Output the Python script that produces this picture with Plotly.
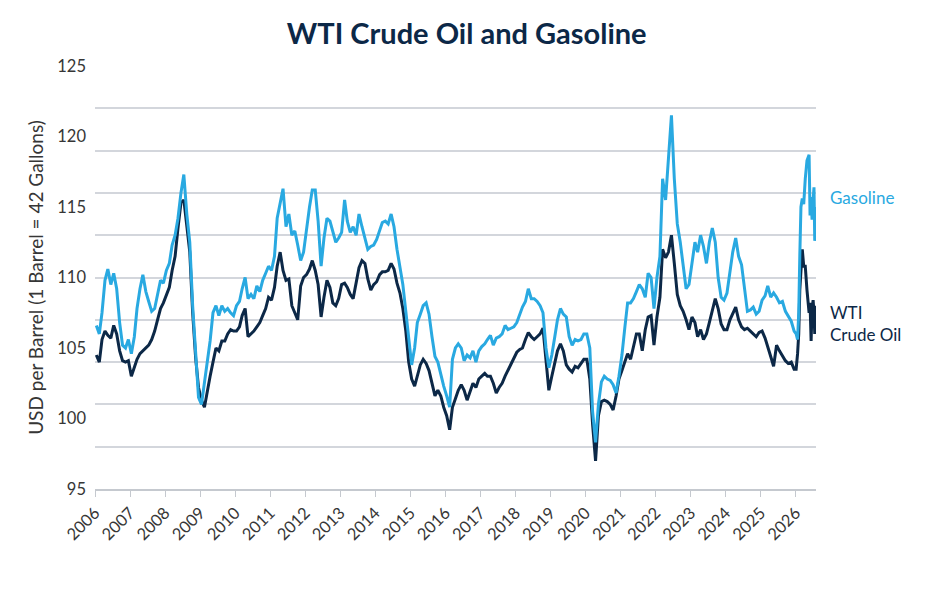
"""WTI crude oil vs gasoline (USD per barrel), 2006 - mid 2026.

Monthly readings, plus a finer set of points for 2026.

    python plot.py
"""
import pandas as pd
import plotly.graph_objects as go

GAS_COLOR = "#29a9e1"
WTI_COLOR = "#0c2847"
GRID = "#d3d6dc"
TEXT = "#363636"

# monthly values, Jan 2006 .. Dec 2025 (mid-month)
gasoline_monthly = [
    106.6, 106.0, 107.5, 109.8, 110.6, 109.5, 110.3, 109.2, 106.8, 105.2, 105.0, 105.6,  # 2006
    104.6, 105.8, 107.8, 109.2, 110.2, 109.0, 108.3, 107.6, 107.8, 108.8, 109.8, 109.6,  # 2007
    110.5, 111.0, 112.3, 113.0, 114.2, 116.0, 117.3, 114.5, 112.5, 108.0, 104.5, 101.5,  # 2008
    101.0, 102.5, 104.0, 105.5, 107.5, 108.0, 107.3, 108.0, 107.6, 107.8, 107.5, 107.3,  # 2009
    108.0, 108.3, 109.2, 110.0, 108.5, 108.8, 108.5, 109.4, 109.0, 109.8, 110.3, 110.8,  # 2010
    110.5, 111.5, 114.2, 115.3, 116.3, 113.6, 114.5, 113.0, 113.3, 112.3, 111.2, 111.8,  # 2011
    113.6, 115.0, 116.2, 116.2, 114.0, 110.8, 112.8, 114.2, 114.0, 113.2, 112.5, 112.8,  # 2012
    113.2, 115.5, 114.0, 113.2, 113.6, 113.0, 114.5, 113.6, 112.8, 112.0, 112.2, 112.3,  # 2013
    112.7, 113.3, 113.9, 114.0, 113.8, 114.5, 113.6, 112.0, 110.8, 109.5, 107.6, 105.8,  # 2014
    103.8, 105.0, 106.8, 107.4, 108.0, 108.2, 107.4, 105.8, 104.4, 104.0, 103.1, 102.3,  # 2015
    101.6, 100.8, 104.2, 105.0, 105.3, 105.0, 104.1, 104.5, 104.3, 104.8, 104.0, 104.8,  # 2016
    105.1, 105.3, 105.6, 105.9, 105.2, 105.7, 105.8, 106.0, 106.6, 106.3, 106.4, 106.5,  # 2017
    106.8, 107.4, 107.9, 108.3, 109.2, 108.5, 108.5, 108.3, 108.0, 107.5, 105.0, 103.6,  # 2018
    104.5, 105.8, 107.0, 107.8, 107.4, 107.2, 105.8, 105.2, 105.6, 105.5, 105.6, 106.0,  # 2019
    106.0, 105.0, 100.5, 98.3, 101.0, 102.6, 103.0, 102.8, 102.7, 102.4, 101.8, 103.0,   # 2020
    104.5, 106.5, 108.2, 108.2, 108.5, 109.0, 109.5, 109.2, 108.6, 110.3, 110.0, 107.8,  # 2021
    110.0, 111.5, 117.0, 115.5, 118.5, 121.5, 117.0, 113.8, 112.5, 111.0, 109.2, 109.5,  # 2022
    111.2, 112.5, 111.8, 113.0, 112.2, 111.0, 112.5, 113.5, 112.5, 110.0, 108.6, 108.4,  # 2023
    108.9, 110.6, 111.8, 112.8, 111.5, 110.9, 109.4, 107.6, 107.7, 107.9, 107.4, 107.6,  # 2024
    108.4, 108.7, 109.4, 108.6, 108.9, 108.6, 108.2, 108.3, 107.6, 107.3, 106.9, 106.2,  # 2025
]
wti_monthly = [
    104.5, 104.0, 105.6, 106.2, 105.9, 105.7, 106.6, 106.0, 104.8, 104.1, 104.0, 104.1,  # 2006
    103.0, 103.6, 104.2, 104.6, 104.8, 105.0, 105.2, 105.6, 106.2, 107.0, 107.8, 108.2,  # 2007
    108.7, 109.3, 110.5, 111.5, 113.5, 115.3, 115.5, 113.8, 111.8, 107.5, 104.3, 102.2,  # 2008
    101.3, 100.8, 102.0, 103.0, 104.0, 105.0, 104.8, 105.5, 105.5, 106.0, 106.3, 106.2,  # 2009
    106.2, 106.5, 107.3, 107.8, 105.8, 106.0, 106.2, 106.5, 106.8, 107.3, 107.8, 108.6,  # 2010
    108.4, 109.3, 110.8, 111.8, 110.5, 109.8, 109.9, 108.0, 107.5, 107.0, 109.4, 110.0,  # 2011
    110.2, 110.6, 111.2, 110.5, 109.5, 107.2, 108.6, 109.8, 109.3, 108.2, 108.0, 108.5,  # 2012
    109.5, 109.6, 109.3, 108.8, 108.5, 109.5, 110.7, 111.2, 111.0, 109.9, 109.1, 109.5,  # 2013
    109.7, 110.2, 110.4, 110.4, 110.5, 111.0, 110.6, 109.6, 108.9, 107.8, 106.2, 104.0,  # 2014
    102.8, 102.3, 103.0, 103.8, 104.2, 103.9, 103.4, 102.4, 101.6, 102.0, 101.6, 100.8,  # 2015
    100.2, 99.2, 100.8, 101.4, 102.0, 102.4, 102.0, 101.3, 102.0, 102.5, 102.2, 102.8,   # 2016
    103.0, 103.2, 103.0, 103.0, 102.5, 101.8, 102.2, 102.5, 103.0, 103.4, 103.9, 104.2,  # 2017
    104.7, 104.9, 105.0, 105.6, 106.1, 105.8, 105.6, 105.8, 106.0, 106.4, 104.0, 102.0,  # 2018
    103.0, 104.0, 104.8, 105.3, 104.8, 103.8, 103.5, 103.3, 103.7, 103.6, 103.9, 104.2,  # 2019
    104.2, 102.8, 99.6, 97.0, 100.2, 101.2, 101.3, 101.2, 101.0, 100.6, 101.6, 102.8,    # 2020
    103.4, 104.1, 104.6, 104.2, 105.0, 106.0, 106.0, 104.8, 106.3, 107.2, 107.3, 105.2,  # 2021
    107.2, 108.6, 112.0, 111.4, 111.8, 113.0, 111.0, 108.8, 108.0, 107.6, 107.0, 106.3,  # 2022
    107.2, 106.8, 105.8, 106.3, 105.6, 106.0, 106.8, 107.6, 108.5, 107.8, 106.7, 106.3,  # 2023
    106.3, 107.0, 107.4, 107.9, 107.0, 106.5, 106.3, 106.4, 106.2, 106.0, 105.8, 106.1,  # 2024
    106.2, 105.7, 105.0, 104.4, 103.7, 105.2, 104.8, 104.4, 104.1, 103.9, 104.0, 103.5,  # 2025
]

# 2026: finer readings
dates_2026 = ["2026-01-05", "2026-01-20", "2026-02-01", "2026-02-12", "2026-02-24",
              "2026-03-10", "2026-03-25", "2026-04-10", "2026-04-28", "2026-05-20",
              "2026-05-30", "2026-06-10", "2026-06-20", "2026-07-01", "2026-07-10",
              "2026-07-18", "2026-07-28"]
gasoline_2026 = [106.0, 105.6, 107.5, 111.5, 115.0, 115.6, 115.2, 117.0, 118.3, 118.7,
                 114.4, 115.7, 114.1, 115.5, 116.4, 112.6, 115.0]
wti_2026 = [103.5, 104.6, 106.0, 109.1, 110.8, 112.0, 110.8, 110.8, 109.1, 107.5,
            108.2, 105.5, 107.8, 108.4, 107.5, 106.0, 108.0]

years = list(range(2006, 2027))
label_ticks = [95, 100, 105, 110, 115, 120, 125]

monthly_dates = pd.date_range("2006-01-01", periods=len(gasoline_monthly), freq="MS") + pd.Timedelta(days=14)
df = pd.DataFrame({
    "date": list(monthly_dates) + list(pd.to_datetime(dates_2026)),
    "gasoline": gasoline_monthly + gasoline_2026,
    "wti": wti_monthly + wti_2026,
})

fig = go.Figure()
fig.add_trace(go.Scatter(x=df["date"], y=df["wti"], mode="lines", name="WTI Crude Oil",
                         line=dict(color=WTI_COLOR, width=3)))
fig.add_trace(go.Scatter(x=df["date"], y=df["gasoline"], mode="lines", name="Gasoline",
                         line=dict(color=GAS_COLOR, width=3)))
# empty trace so the label axis (y2) gets drawn
fig.add_trace(go.Scatter(x=[], y=[], yaxis="y2", showlegend=False, hoverinfo="skip"))

# end-of-line labels
fig.add_annotation(x=1.0166, xref="paper", y=115.7, yref="y", text="Gasoline", showarrow=False,
                   xanchor="left", font=dict(color=GAS_COLOR, size=17))
fig.add_annotation(x=1.0166, xref="paper", y=106.75, yref="y", text="WTI<br>Crude Oil",
                   showarrow=False, xanchor="left", align="left",
                   font=dict(color=WTI_COLOR, size=17))

# page body has an 8px margin, so margins are shifted to land the plot where the original sits
fig.update_layout(
    width=940, height=600,
    margin=dict(l=87, r=132, t=58, b=119),
    paper_bgcolor="white", plot_bgcolor="white",
    font=dict(family="Lato, Open Sans, sans-serif", size=16, color=TEXT),
    showlegend=False,
    title=dict(text="<b>WTI Crude Oil and Gasoline</b>", x=0.488, xanchor="center",
               y=0.957, yanchor="middle", font=dict(size=29, color=WTI_COLOR)),
    xaxis=dict(type="date", range=["2006-01-01", "2026-07-31"], automargin=False,
               tickvals=[f"{y}-01-01" for y in years], ticktext=[str(y) for y in years],
               tickangle=-45, ticks="outside", ticklen=6, tickcolor="#c5c9cf",
               showline=True, linecolor="#c5c9cf", linewidth=1.5, showgrid=False,
               tickfont=dict(size=16.5, color=TEXT)),
    # grid every 3 units, no labels
    yaxis=dict(range=[95, 125], tick0=95, dtick=3, showgrid=True, gridcolor=GRID,
               gridwidth=1.5, showticklabels=False, zeroline=False, ticks="",
               automargin=False),
    # labels every 5 units
    yaxis2=dict(range=[95, 125], overlaying="y", side="left", anchor="x",
                tickvals=label_ticks, showgrid=False, zeroline=False, ticks="",
                ticklabelstandoff=8, automargin=False,
                tickfont=dict(size=16.5, color=TEXT),
                title=dict(text="USD per Barrel (1 Barrel = 42 Gallons)", standoff=8,
                           font=dict(size=19, color=TEXT))),
)
fig.write_html("out.html")
